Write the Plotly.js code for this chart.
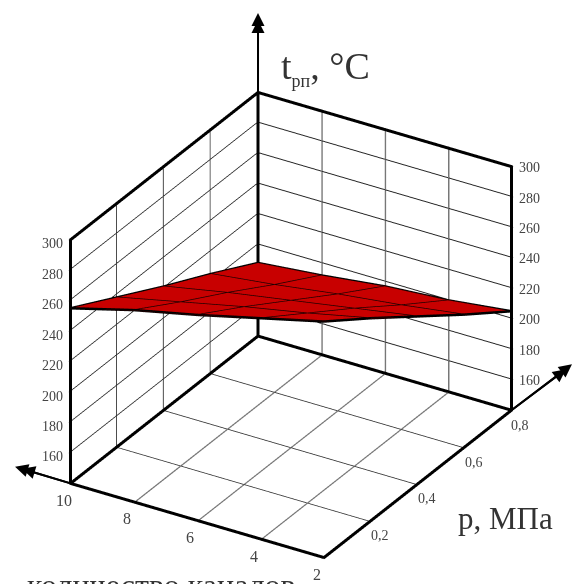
<!DOCTYPE html>
<html>
<head>
<meta charset="utf-8">
<script src="https://cdn.plot.ly/plotly-3.0.1.min.js"></script>
<style>html,body{margin:0;padding:0;background:#fff;overflow:hidden}#c{width:574px;height:584px;filter:blur(0.5px)}</style>
</head>
<body>
<div id="c"></div>
<script>
var channels = [2, 4, 6, 8, 10];
var pressures = [0, 0.2, 0.4, 0.6, 0.8];
var tempTicks = [160, 180, 200, 220, 240, 260, 280, 300];
var channelLabels = ['2', '4', '6', '8', '10'];
var pressureLabels = ['0,2', '0,4', '0,6', '0,8'];
var pressureLabelValues = [0.2, 0.4, 0.6, 0.8];
var tempRange = [140, 300];
var temperature = [
  [295, 285, 275, 266, 255],
  [273, 264, 256, 247, 238],
  [250, 243, 236, 229, 221],
  [227, 221, 216, 210, 205],
  [205, 200, 197, 192, 188]
];

var xMin = channels[0], xMax = channels[channels.length - 1];
var pMin = pressures[0], pMax = pressures[pressures.length - 1];
var zMin = tempRange[0], zMax = tempRange[1];

// box frame as one continuous path
var fx = [xMin, xMin, xMax, xMax, xMax, xMin, xMin, xMax, xMax, xMax, xMax];
var fy = [pMax, pMin, pMin, pMin, pMax, pMax, pMax, pMax, pMax, pMax, pMin];
var fz = [zMin, zMin, zMin, zMax, zMax, zMax, zMin, zMin, zMax, zMin, zMin];

// surface outline
var ex = [], ey = [], ez = [];
channels.forEach(function (c, i) { ex.push(c); ey.push(pMin); ez.push(temperature[0][i]); });
pressures.forEach(function (p, j) { ex.push(xMax); ey.push(p); ez.push(temperature[j][4]); });
channels.slice().reverse().forEach(function (c, i) { ex.push(c); ey.push(pMax); ez.push(temperature[4][4 - i]); });
pressures.slice().reverse().forEach(function (p, j) { ex.push(xMin); ey.push(p); ez.push(temperature[4 - j][0]); });

// surface mesh
var mx = [], my = [], mz = [];
channels.forEach(function (c, i) {
  pressures.forEach(function (p, j) { mx.push(c); my.push(p); mz.push(temperature[j][i]); });
  mx.push(null); my.push(null); mz.push(null);
});
pressures.forEach(function (p, j) {
  channels.forEach(function (c, i) { mx.push(c); my.push(p); mz.push(temperature[j][i]); });
  mx.push(null); my.push(null); mz.push(null);
});

var traces = [
  {type: 'surface', x: channels, y: pressures, z: temperature, showscale: false, hoverinfo: 'skip',
   colorscale: [[0, '#c80000'], [1, '#c80000']],
   lighting: {ambient: 1, diffuse: 0, specular: 0, roughness: 1, fresnel: 0}},
  {type: 'scatter3d', mode: 'lines', x: mx, y: my, z: mz, hoverinfo: 'skip', showlegend: false,
   line: {color: '#200000', width: 3}},
  {type: 'scatter3d', mode: 'lines', x: ex, y: ey, z: ez, hoverinfo: 'skip', showlegend: false,
   line: {color: '#000', width: 5}},
  {type: 'scatter3d', mode: 'lines', x: fx, y: fy, z: fz, hoverinfo: 'skip', showlegend: false,
   line: {color: '#000', width: 6}}
];

var tickFont = {family: 'Liberation Serif', size: 14, color: '#444'};
var ann = [];
function lab(x, y, z, t, dx, dy, fs) {
  ann.push({x: x, y: y, z: z, text: t, showarrow: false, xshift: dx, yshift: dy,
            font: fs ? {family: tickFont.family, size: fs, color: tickFont.color} : tickFont});
}
tempTicks.forEach(function (t) {
  lab(xMax, pMin, t, String(t), -18, -4);
  lab(xMin, pMax, t, String(t), 18, -1);
});
channels.forEach(function (c, i) { lab(c, pMin, zMin, channelLabels[i], -7, -17, 16); });
pressureLabelValues.forEach(function (p, i) { lab(xMin, p, zMin, pressureLabels[i], 9, -15, 14); });

function arrow(x, y, z, ax, ay) {
  ann.push({x: x, y: y, z: z, text: '', showarrow: true, arrowside: 'start', startarrowhead: 2,
            startarrowsize: 1.3, arrowwidth: 2, arrowcolor: '#000', ax: ax, ay: ay});
}
// each axis extension ends in an elongated head (two stacked heads)
arrow(xMax, pMax, zMax, 0, -81);
arrow(xMax, pMax, zMax, 0, -74);
arrow(xMax, pMin, zMin, -57, -17);
arrow(xMax, pMin, zMin, -50, -15);
arrow(xMin, pMax, zMin, 62, -47);
arrow(xMin, pMax, zMin, 56, -42);

var titleFont = 'Liberation Serif';
var layout = {
  width: 574, height: 584, margin: {l: 0, r: 0, t: 0, b: 0},
  paper_bgcolor: '#fff', showlegend: false,
  scene: {
    domain: {x: [0.014, 1], y: [0, 0.887]},
    aspectmode: 'manual',
    aspectratio: {x: 1.155, y: 1.40, z: 1.08},
    camera: {projection: {type: 'orthographic'}, up: {x: 0, y: 0, z: 1},
             center: {x: 0, y: 0, z: 0}, eye: {x: 0.914, y: -1.498, z: 0.959}},
    xaxis: {range: [xMax + 0.03, xMin - 0.03], tickvals: channels, showticklabels: false, title: {text: ''}, gridcolor: '#777', gridwidth: 3,
            zeroline: false, showspikes: false, showbackground: false, showline: false},
    yaxis: {range: [pMin - 0.003, pMax + 0.003], tickvals: pressures, showticklabels: false, title: {text: ''}, gridcolor: '#333', gridwidth: 2,
            zeroline: false, showspikes: false, showbackground: false, showline: false},
    zaxis: {range: [zMin - 0.6, zMax + 0.6], tickvals: tempTicks, showticklabels: false, title: {text: ''}, gridcolor: '#222', gridwidth: 2,
            zeroline: false, showspikes: false, showbackground: false, showline: false},
    annotations: ann
  },
  annotations: [
    {xref: 'paper', yref: 'paper', x: 279 / 574, y: 1 - 68 / 584, xanchor: 'left', yanchor: 'middle', showarrow: false,
     text: 't<sub><span style="font-size:18px">рп</span></sub>, °C', font: {family: titleFont, size: 38, color: '#333'}},
    {xref: 'paper', yref: 'paper', x: 456 / 574, y: 1 - 518 / 584, xanchor: 'left', yanchor: 'middle', showarrow: false,
     text: 'p, МПа', font: {family: titleFont, size: 31, color: '#333'}},
    {xref: 'paper', yref: 'paper', x: 25 / 574, y: 1 - 565 / 584, xanchor: 'left', yanchor: 'top', showarrow: false,
     text: 'количество каналов', font: {family: titleFont, size: 32, color: '#333'}}
  ]
};
Plotly.newPlot('c', traces, layout, {displayModeBar: false});
</script>
</body>
</html>
